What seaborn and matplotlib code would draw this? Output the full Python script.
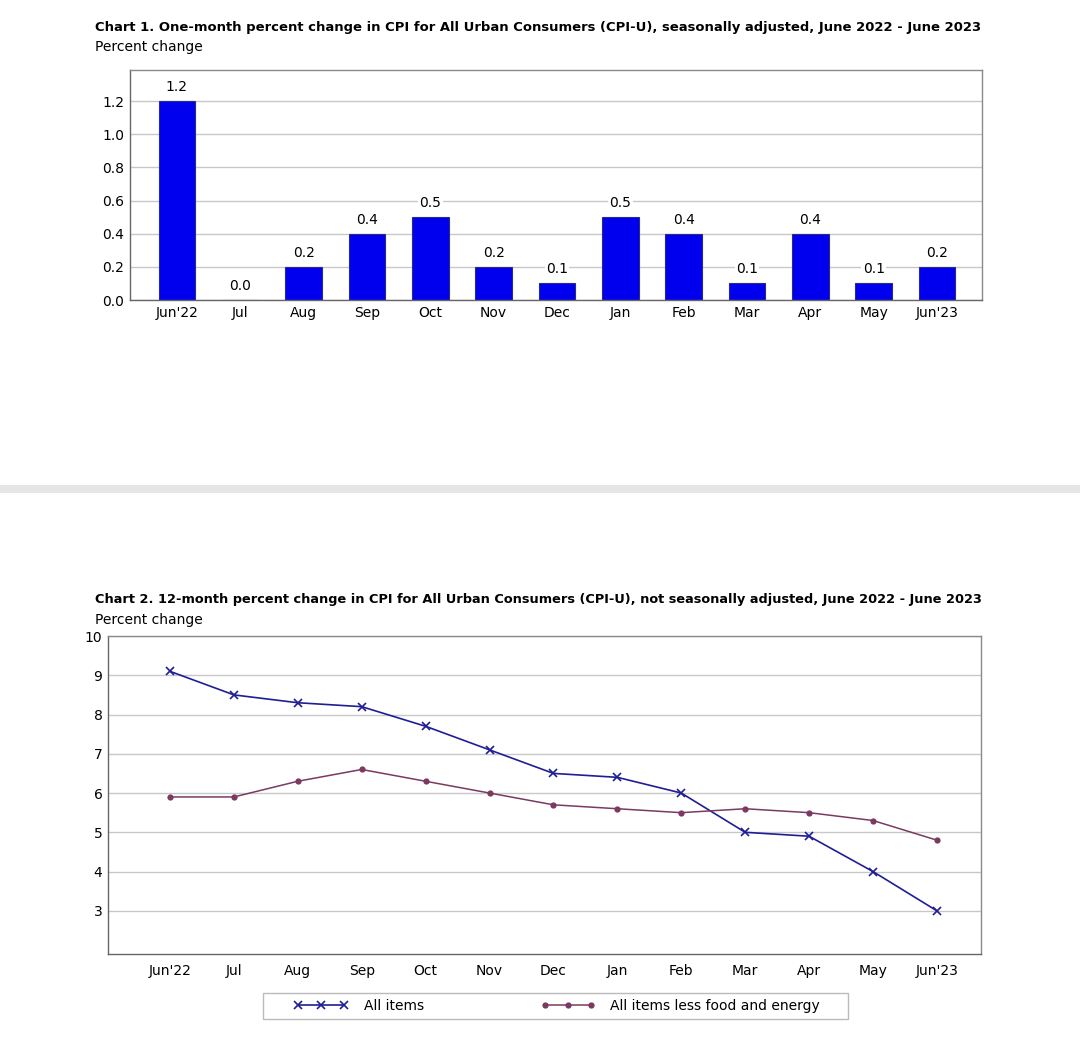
import numpy as np
import pandas as pd
import matplotlib
matplotlib.use("Agg")
import matplotlib.pyplot as plt
import seaborn as sns

months = ["Jun'22", "Jul", "Aug", "Sep", "Oct", "Nov", "Dec",
          "Jan", "Feb", "Mar", "Apr", "May", "Jun'23"]
one_month = [1.2, 0.0, 0.2, 0.4, 0.5, 0.2, 0.1, 0.5, 0.4, 0.1, 0.4, 0.1, 0.2]
all_items = [9.1, 8.5, 8.3, 8.2, 7.7, 7.1, 6.5, 6.4, 6.0, 5.0, 4.9, 4.0, 3.0]
core_items = [5.9, 5.9, 6.3, 6.6, 6.3, 6.0, 5.7, 5.6, 5.5, 5.6, 5.5, 5.3, 4.8]

sns.set_style("white")
plt.rcParams['font.family'] = ['DejaVu Sans']
plt.rcParams['text.color'] = 'black'
plt.rcParams['xtick.color'] = 'black'
plt.rcParams['ytick.color'] = 'black'

W, H = 1080, 1059
fig = plt.figure(figsize=(W / 100, H / 100), dpi=100)

grid_c = '#c8c8c8'
spine_c = '#8a8a8a'

# ---- Chart 1 ----
ax1 = fig.add_axes([130 / W, 1 - 300 / H, (982 - 130) / W, (300 - 70) / H])
df1 = pd.DataFrame({'month': months, 'value': one_month})
sns.barplot(data=df1, x='month', y='value', color='#0000ee', width=0.58,
            edgecolor='#2a2a8a', linewidth=0.8, saturation=1, ax=ax1, zorder=2)
ax1.set_xlim(-0.74, 12.71)
ax1.set_ylim(0, 1.387)
ax1.set_yticks(np.arange(0, 1.21, 0.2))
ax1.set_yticklabels([f'{v:.1f}' for v in np.arange(0, 1.21, 0.2)])
ax1.grid(axis='y', color=grid_c, linewidth=1, zorder=0)
ax1.set_axisbelow(True)
for c in ax1.containers:
    labels = ax1.bar_label(c, fmt='%.1f', padding=5, fontsize=10, color='black')
    for t in labels:
        t.set_bbox(dict(facecolor='white', edgecolor='none', pad=1))
ax1.set_xlabel('')
ax1.set_ylabel('')
ax1.tick_params(axis='both', labelsize=10, length=0, pad=4, labelcolor='black')
for s in ax1.spines.values():
    s.set_color(spine_c)
    s.set_linewidth(1)
ax1.spines['left'].set_color('#666666')
ax1.spines['bottom'].set_color('#666666')

fig.text(95 / W, 1 - 28 / H, 'Chart 1. One-month percent change in CPI for All Urban Consumers (CPI-U), seasonally adjusted, June 2022 - June 2023',
         fontsize=9.49, fontweight='bold', va='center', ha='left', color='black')
fig.text(95 / W, 1 - 47 / H, 'Percent change', fontsize=10, va='center', ha='left', color='black')

# separator band
fig.patches.append(plt.Rectangle((0, 1 - 493 / H), 1, 8 / H, transform=fig.transFigure,
                                 facecolor='#e6e6e6', edgecolor='none'))

# ---- Chart 2 ----
ax2 = fig.add_axes([108 / W, 1 - 954 / H, (981 - 108) / W, (954 - 636) / H])
df2 = pd.DataFrame({'pos': np.arange(len(months)), 'all': all_items, 'core': core_items})
blue = '#1e1e96'
maroon = '#7b3a60'
sns.lineplot(data=df2, x='pos', y='all', color=blue, marker='x', markersize=6,
             markeredgewidth=1.2, markeredgecolor=blue, linewidth=1.2,
             label='All items', ax=ax2)
sns.lineplot(data=df2, x='pos', y='core', color=maroon, marker='o', markersize=4.5,
             markeredgewidth=0, markerfacecolor=maroon, linewidth=1.1,
             label='All items less food and energy', ax=ax2)
ax2.set_xlim(-0.97, 12.69)
ax2.set_ylim(1.9, 10)
ax2.set_yticks(range(3, 11))
ax2.set_xticks(range(len(months)))
ax2.set_xticklabels(months)
ax2.grid(axis='y', color=grid_c, linewidth=1)
ax2.set_axisbelow(True)
ax2.set_xlabel('')
ax2.set_ylabel('')
ax2.tick_params(axis='y', labelsize=10, length=0, pad=4, labelcolor='black')
ax2.tick_params(axis='x', labelsize=10, length=4, width=0.8, color='#aaaaaa',
                direction='out', pad=3, labelcolor='black')
for s in ax2.spines.values():
    s.set_color(spine_c)
    s.set_linewidth(1)
ax2.spines['left'].set_color('#666666')
ax2.spines['bottom'].set_color('#666666')

# legend frame drawn separately (wider side padding than matplotlib allows)
fig.patches.append(plt.Rectangle((263 / W, 1 - 1019 / H), (848 - 263) / W, 26 / H,
                                 transform=fig.transFigure, facecolor='white',
                                 edgecolor='#bbbbbb', linewidth=1))
handles, lbls = ax2.get_legend_handles_labels()
ax2.get_legend().remove()
fig.legend(handles, lbls, loc='center', bbox_to_anchor=(557 / W, 1 - 1006 / H), ncol=2,
           numpoints=3, handlelength=3.9, columnspacing=8.4, fontsize=10, frameon=False,
           borderpad=0.35, handletextpad=1.1, borderaxespad=0)

fig.text(95 / W, 1 - 600 / H, 'Chart 2. 12-month percent change in CPI for All Urban Consumers (CPI-U), not seasonally adjusted, June 2022 - June 2023',
         fontsize=9.24, fontweight='bold', va='center', ha='left', color='black')
fig.text(95 / W, 1 - 620 / H, 'Percent change', fontsize=10, va='center', ha='left', color='black')

fig.savefig('out.png', dpi=100, facecolor='white')
